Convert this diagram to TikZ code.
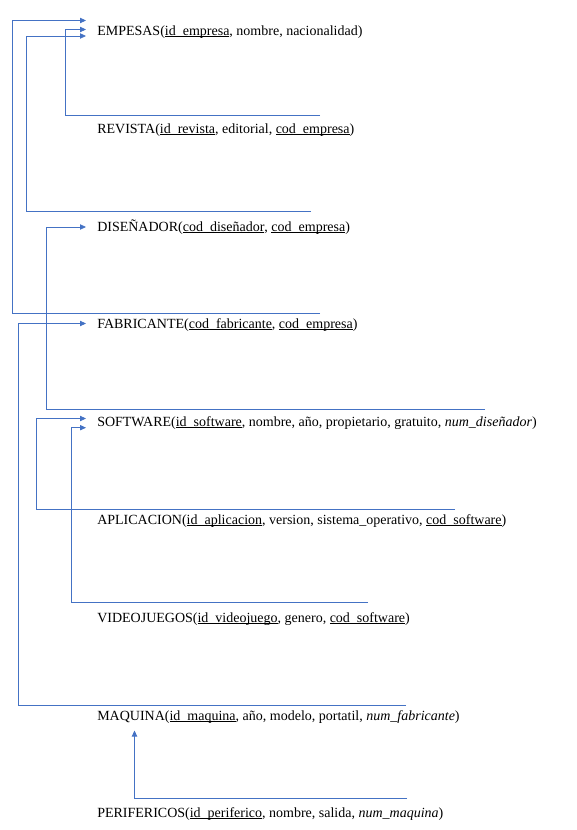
\documentclass[tikz,border=0pt]{standalone}
\usepackage{fontspec}
\setmainfont{Liberation Serif}
\usepackage{xcolor}
\usepackage{tikz}
\usetikzlibrary{arrows.meta}
\definecolor{linkblue}{HTML}{4472C4}
\tikzset{>={Triangle[length=4.5pt,width=4pt]}}
\tikzstyle{rel} = [anchor=base west, inner xsep=8.25pt, inner ysep=0pt, font=\fontsize{10.5pt}{12pt}\selectfont]
\tikzstyle{fk} = [->, draw=linkblue, line width=0.6pt]
\newcommand{\keyul}[1]{\setbox0\hbox{#1}\rlap{\rule[-1.1pt]{\wd0}{0.5pt}}\box0}

\begin{document}
\begin{tikzpicture}[x=0.75pt, y=-0.75pt]
\useasboundingbox (0,0) rectangle (576,830);
\node [rel] (emp) at (86, 35.5) {EMPESAS(\keyul{id\_empresa}, nombre, nacionalidad)};
\node [rel] (rev) at (86, 133.5) {REVISTA(\keyul{id\_revista}, editorial, \keyul{cod\_empresa})};
\node [rel] (dis) at (86, 231.5) {DISEÑADOR(\keyul{cod\_diseñador}, \keyul{cod\_empresa})};
\node [rel] (fab) at (86, 328.5) {FABRICANTE(\keyul{cod\_fabricante}, \keyul{cod\_empresa})};
\node [rel] (sw) at (86, 426.5) {SOFTWARE(\keyul{id\_software}, nombre, año, propietario, gratuito, \textit{num\_diseñador})};
\node [rel] (apl) at (86, 524.5) {APLICACION(\keyul{id\_aplicacion}, version, sistema\_operativo, \keyul{cod\_software})};
\node [rel] (vid) at (86, 622.5) {VIDEOJUEGOS(\keyul{id\_videojuego}, genero, \keyul{cod\_software})};
\node [rel] (maq) at (86, 720.5) {MAQUINA(\keyul{id\_maquina}, año, modelo, portatil, \textit{num\_fabricante})};
\node [rel] (per) at (86, 817.5) {PERIFERICOS(\keyul{id\_periferico}, nombre, salida, \textit{num\_maquina})};
% free ends of the links
\coordinate (revE) at (320, 115);
\coordinate (disE) at (311, 211);
\coordinate (fabE) at (320, 313);
\coordinate (swE) at (485, 409);
\coordinate (aplE) at (455, 509);
\coordinate (vidE) at (368, 602.5);
\coordinate (maqE) at (406, 705);
\coordinate (perE) at (407, 798.5);
\draw [fk] (fabE) -- ++(-308,0) |- ([yshift=11.25pt]emp.base west);
\draw [fk] (revE) -- ++(-255,0) |- ([yshift=4.5pt]emp.base west);
\draw [fk] (disE) -- ++(-285,0) |- ([yshift=-0.375pt]emp.base west);
\draw [fk] (swE) -- ++(-439,0) |- ([yshift=3.375pt]dis.base west);
\draw [fk] (maqE) -- ++(-387.5,0) |- ([yshift=3.75pt]fab.base west);
\draw [fk] (aplE) -- ++(-418.5,0) |- ([yshift=6pt]sw.base west);
\draw [fk] (vidE) -- ++(-296.5,0) |- ([yshift=-0.9pt]sw.base west);
\draw [fk] (perE) -| ([xshift=36.375pt, yshift=-7.5pt]maq.base west);
\end{tikzpicture}
\end{document}
